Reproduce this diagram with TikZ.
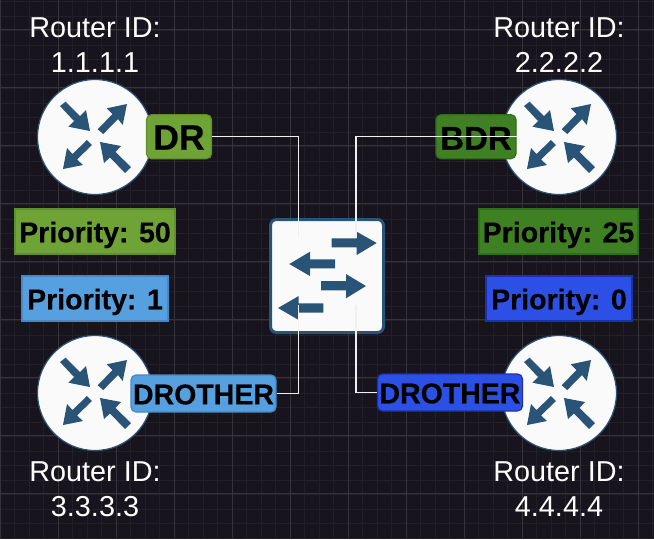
\documentclass[tikz,border=0pt]{standalone}
\usepackage{fontspec}
\setmainfont{Liberation Sans}
\newfontfamily\heavyfont[FakeBold=0.4]{Liberation Sans Bold}
\definecolor{bgc}{HTML}{18141D}
\definecolor{gridminor}{HTML}{231F28}
\definecolor{gridmajor}{HTML}{363339}
\definecolor{iconblue}{HTML}{2A5477}
\definecolor{iconfill}{HTML}{FAFAFA}
\definecolor{linkc}{HTML}{F0F0F0}
\definecolor{gA}{HTML}{6FA336}\definecolor{gAe}{HTML}{5F9030}
\definecolor{gB}{HTML}{3F8023}\definecolor{gBe}{HTML}{2F6E1A}
\definecolor{bA}{HTML}{56A0E0}\definecolor{bAe}{HTML}{4488C5}
\definecolor{bB}{HTML}{2C50E6}\definecolor{bBe}{HTML}{1D30B0}
\tikzset{
  x=1pt,y=-1pt,
  routernode/.style={circle,draw=iconblue,line width=1.2pt,fill=iconfill,minimum size=115pt,inner sep=0pt},
  switchnode/.style={rectangle,rounded corners=6pt,draw=iconblue,line width=3pt,fill=iconfill,minimum width=113pt,minimum height=113pt,inner sep=0pt},
  idtext/.style={text=white,font=\fontsize{28.8}{35}\selectfont,align=center,inner sep=0pt},
  tagbox/.style={rounded corners=5pt,line width=1.2pt,inner sep=0pt,text=black,text depth=0pt,font=\heavyfont\fontsize{28.5}{34}\selectfont},
  prio/.style={line width=1.2pt,inner sep=0pt,text=black,text height=21.5pt,text depth=0pt,font=\heavyfont\fontsize{28.5}{34}\selectfont},
  iconarrow/.style={fill=iconblue,draw=none},
  link/.style={draw=linkc,line width=1.3pt},
}
\newcommand{\routerarrows}[2]{%
  \begin{scope}[shift={(#1,#2)}]
    \fill[iconarrow] (-5,-6) -- (-9,-27) -- (-15,-21) -- (-29.3,-35.3) -- (-35,-31) -- (-21,-16) -- (-26.7,-10.3) -- cycle;
    \fill[iconarrow] (32,-33) -- (11.7,-28.7) -- (17.5,-23) -- (2.7,-7.7) -- (8.3,-3) -- (23,-18) -- (27.7,-12) -- cycle;
    \fill[iconarrow] (-32,32) -- (-28,11) -- (-22.5,17) -- (-8,3) -- (-3,8) -- (-18,22.5) -- (-12,28) -- cycle;
    \fill[iconarrow] (5,5) -- (26,9) -- (20.5,15) -- (36,30) -- (30,36) -- (15,20.5) -- (9,26) -- cycle;
  \end{scope}}
\begin{document}
\begin{tikzpicture}
\useasboundingbox (0,0) rectangle (654,539);
\fill[bgc] (0,0) rectangle (654,539);
% grid
\foreach \i in {0,...,45}{\draw[gridminor,line width=.7pt] ({14.5*\i},0) -- ({14.5*\i},539);}
\foreach \i in {0,...,37}{\draw[gridminor,line width=.7pt] (0,{1.5+14.5*\i}) -- (654,{1.5+14.5*\i});}
\foreach \i in {0,...,11}{\draw[gridmajor,line width=.7pt] ({58*\i},0) -- ({58*\i},539);}
\foreach \i in {0,...,9}{\draw[gridmajor,line width=.7pt] (0,{29+58*\i}) -- (654,{29+58*\i});}
% routers
\node[routernode] (r1) at (95,137) {};
\node[routernode] (r2) at (559,137) {};
\node[routernode] (r3) at (95,393) {};
\node[routernode] (r4) at (559,393) {};
\routerarrows{95}{137}\routerarrows{559}{137}\routerarrows{95}{393}\routerarrows{559}{393}
% switch
\node[switchnode] (sw) at (327,276) {};
\fill[iconarrow] (376.7,243) -- (356.7,231.7) -- (356.7,238.3) -- (331.7,238.3) -- (331.7,247.3) -- (356.7,247.3) -- (356.7,255) -- cycle;
\fill[iconarrow] (289.3,264) -- (310,251.7) -- (310,259.3) -- (335,259.3) -- (335,268.3) -- (310,268.3) -- (310,276) -- cycle;
\fill[iconarrow] (366,286) -- (346,274) -- (346,281) -- (321,281) -- (321,290.3) -- (346,290.3) -- (346,298.3) -- cycle;
\fill[iconarrow] (278,308) -- (298.7,296) -- (298.7,303.3) -- (323.3,303.3) -- (323.3,312.7) -- (298.7,312.7) -- (298.7,320) -- cycle;
% tags
\coordinate (p1) at (298.5,238);
\coordinate (p2) at (356,238);
\coordinate (p3) at (298.5,305);
\coordinate (p4) at (356,305);
\node[tagbox,fill=gA,draw=gAe,minimum width=65pt,minimum height=44pt,text height=26pt] (dr) at (179,136.7) {\fontsize{35.5}{40}\selectfont DR};
\node[tagbox,fill=gB,draw=gBe,minimum width=80pt,minimum height=44pt,text height=26pt] (bdr) at (476,136.7) {\fontsize{33}{40}\selectfont BDR};
\node[tagbox,fill=bA,draw=bAe,minimum width=145pt,minimum height=37pt,text height=21.6pt] (do1) at (203.5,393.5) {DROTHER};
\node[tagbox,fill=bB,draw=bBe,minimum width=145pt,minimum height=37pt,text height=21.6pt] (do2) at (450,392.5) {DROTHER};
\draw[link] (dr.east) -| (p1);
\draw[link] (bdr.east) -| (p2);
\draw[link] (do1.east) -| (p3);
\draw[link] (do2.west) -| (p4);
% priorities
\node[prio,fill=gA,draw=gAe,minimum width=160pt,minimum height=45pt] (pa) at (95,231.5) {Priority: 50};
\node[prio,fill=gB,draw=gBe,minimum width=159pt,minimum height=45pt] (pb) at (558.5,231.5) {Priority: 25};
\node[prio,fill=bA,draw=bAe,minimum width=146pt,minimum height=45pt] (pc) at (95,298.5) {Priority: 1};
\node[prio,fill=bB,draw=bBe,minimum width=146pt,minimum height=45pt] (pd) at (559,298.5) {Priority: 0};
% router ids
\node[idtext] (t1) at (95,45) {Router ID:\\1.1.1.1};
\node[idtext] (t2) at (559,45) {Router ID:\\2.2.2.2};
\node[idtext] (t3) at (95,489) {Router ID:\\3.3.3.3};
\node[idtext] (t4) at (559,489) {Router ID:\\4.4.4.4};
\end{tikzpicture}
\end{document}
